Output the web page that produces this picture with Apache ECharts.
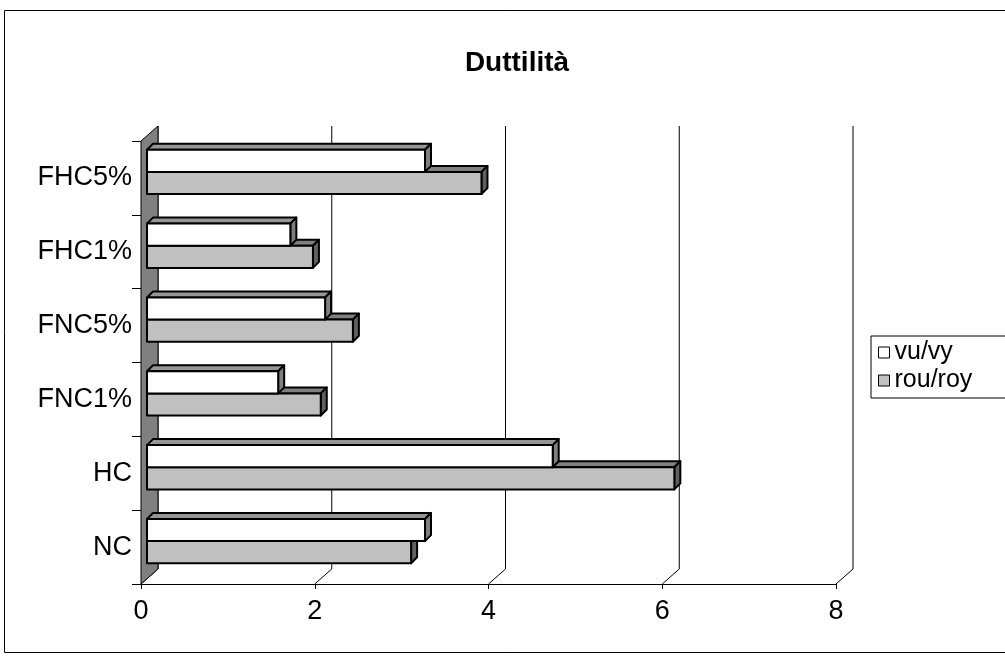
<!DOCTYPE html>
<html><head><meta charset="utf-8">
<script src="https://cdn.jsdelivr.net/npm/echarts@6/dist/echarts.min.js"></script>
<style>html,body{margin:0;padding:0;background:#fff}#c{width:1005px;height:663px}</style>
</head><body><div id="c"></div>
<script>
const categories = ['NC', 'HC', 'FNC1%', 'FNC5%', 'FHC1%', 'FHC5%'];
const vuVy = [3.20, 4.67, 1.51, 2.05, 1.65, 3.20];
const rouRoy = [3.04, 6.07, 2.00, 2.37, 1.91, 3.85];
const xTicks = [0, 2, 4, 6, 8];
const titleText = 'Duttilità';

const FONT = 'Arial, "Liberation Sans", sans-serif';
const DX = 17, DY = 15;      // back wall offset
const DB = 6;                // bar front-face depth offset
const DD = 6;                // bar depth
const THICK = 0.3;           // bar thickness relative to band

function barRenderer(upper, cFront, cTop, cSide) {
  return function (params, api) {
    const val = api.value(0), cat = api.value(1);
    const p0 = api.coord([0, cat]);
    const p1 = api.coord([val, cat]);
    const band = api.size([0, 1])[1];
    const t = band * THICK;
    const xL = p0[0] + DB, xR = p1[0] + DB;
    const c = p0[1] - DB;
    const yTop = upper ? c - t : c;
    const yBot = upper ? c : c + t;
    const stroke = { stroke: '#000', lineWidth: 2, lineJoin: 'round' };
    return {
      type: 'group',
      children: [
        { type: 'polygon', shape: { points: [[xL, yTop], [xL + DD, yTop - DD], [xR + DD, yTop - DD], [xR, yTop]] },
          style: Object.assign({ fill: cTop }, stroke) },
        { type: 'polygon', shape: { points: [[xR, yTop], [xR + DD, yTop - DD], [xR + DD, yBot - DD], [xR, yBot]] },
          style: Object.assign({ fill: cSide }, stroke) },
        { type: 'rect', shape: { x: xL, y: yTop, width: xR - xL, height: yBot - yTop },
          style: Object.assign({ fill: cFront }, stroke) }
      ]
    };
  };
}

const chart = echarts.init(document.getElementById('c'), null, { renderer: 'canvas' });
chart.setOption({
  backgroundColor: '#fff',
  animation: false,
  title: {
    text: titleText, left: 512, top: 44, textAlign: 'center',
    textStyle: { fontFamily: FONT, fontSize: 28, fontWeight: 'bold', color: '#000' }
  },
  graphic: [{
    type: 'rect', z: -10, silent: true,
    shape: { x: 4.5, y: 10.5, width: 1010, height: 642 },
    style: { fill: 'none', stroke: '#000', lineWidth: 1 }
  }],
  legend: {
    orient: 'vertical', left: 871, top: 336,
    itemWidth: 11, itemHeight: 11, itemGap: 3, icon: 'rect',
    padding: [4, 60, 5, 7], borderColor: '#000', borderWidth: 1,
    textStyle: { fontFamily: FONT, fontSize: 25, color: '#000' },
    data: [
      { name: 'vu/vy', itemStyle: { color: '#fff', borderColor: '#000', borderWidth: 1 } },
      { name: 'rou/roy', itemStyle: { color: '#c0c0c0', borderColor: '#000', borderWidth: 1 } }
    ]
  },
  grid: { left: 141, right: 169, top: 141, bottom: 79, containLabel: false },
  xAxis: {
    type: 'value', min: 0, max: 8, interval: 2,
    axisLine: { show: true, lineStyle: { color: '#000', width: 1 } },
    axisTick: { show: true, length: 5, lineStyle: { color: '#000' } },
    splitLine: { show: false },
    axisLabel: { fontFamily: FONT, fontSize: 27, color: '#000', margin: 14 }
  },
  yAxis: {
    type: 'category', data: categories,
    axisLine: { show: true, lineStyle: { color: '#000', width: 1 } },
    axisTick: { show: true, length: 9, lineStyle: { color: '#000' } },
    axisLabel: { fontFamily: FONT, fontSize: 27, color: '#000', margin: 9 }
  },
  series: [
    {
      type: 'custom', name: 'gridlines', z: 1, silent: true,
      data: xTicks.map(v => [v, 0]),
      encode: { x: 0, y: 1 },
      renderItem: function (params, api) {
        const cs = params.coordSys;
        const x = api.coord([api.value(0), 0])[0];
        const yb = cs.y + cs.height;
        return { type: 'polyline',
          shape: { points: [[x, yb], [x + DX, yb - DY], [x + DX, cs.y - DY]] },
          style: { stroke: '#000', lineWidth: 1, fill: 'none' } };
      }
    },
    {
      type: 'custom', name: 'wall', z: 2, silent: true,
      data: [[0, 0]],
      encode: { x: 0, y: 1 },
      renderItem: function (params, api) {
        const cs = params.coordSys;
        const x = api.coord([0, 0])[0];
        const yb = cs.y + cs.height;
        return { type: 'polygon',
          shape: { points: [[x, cs.y], [x + DX, cs.y - DY], [x + DX, yb - DY], [x, yb]] },
          style: { fill: '#808080', stroke: '#000', lineWidth: 1 } };
      }
    },
    {
      type: 'custom', name: 'rou/roy', z: 3,
      itemStyle: { color: '#c0c0c0', borderColor: '#000' },
      data: rouRoy.map((v, i) => [v, i]),
      encode: { x: 0, y: 1 },
      renderItem: barRenderer(false, '#c0c0c0', '#808080', '#606060')
    },
    {
      type: 'custom', name: 'vu/vy', z: 4,
      itemStyle: { color: '#ffffff', borderColor: '#000' },
      data: vuVy.map((v, i) => [v, i]),
      encode: { x: 0, y: 1 },
      renderItem: barRenderer(true, '#ffffff', '#969696', '#808080')
    }
  ]
});
</script>
</body></html>
